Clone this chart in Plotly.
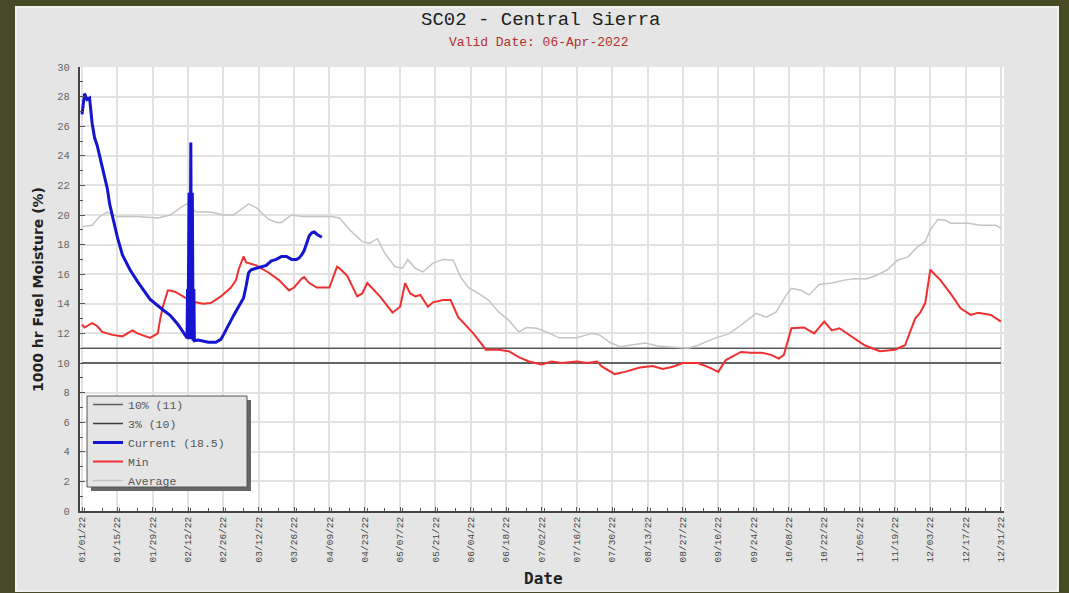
import pandas as pd
import plotly.graph_objects as go

START = pd.Timestamp("2022-01-01")

# day offsets from Jan 1 2022 and values
current_days = [0, 1, 2, 3, 4, 5, 6, 8, 10, 11, 14, 16, 19, 22, 27, 32, 35, 38, 41,
                41.6, 41.8, 42.0, 42.4, 42.7, 43.1, 43.4, 43.7, 44.0, 44.3, 44.5,
                46, 48, 50, 53, 55, 56, 58, 60, 62, 64, 65, 66, 67, 69, 71, 73, 75,
                77, 79, 81, 83, 85, 86, 87, 88, 89, 90, 91, 92, 93, 95]
current_vals = [26.8, 28.2, 27.8, 27.9, 26.2, 25.2, 24.7, 23.2, 21.8, 20.7, 18.5, 17.3,
                16.3, 15.5, 14.3, 13.6, 13.2, 12.6, 11.8,
                11.7, 15.0, 11.6, 21.5, 11.6, 24.9, 11.6, 21.5, 11.5, 15.0, 11.5,
                11.55, 11.5, 11.4, 11.4, 11.6, 11.9, 12.6, 13.2, 13.8, 14.4, 15.2, 16.1,
                16.3, 16.4, 16.5, 16.6, 16.9, 17.0, 17.2, 17.2, 17.0, 17.0, 17.1, 17.3,
                17.6, 18.1, 18.6, 18.8, 18.85, 18.7, 18.5]

min_days = [0, 1, 2, 4, 6, 8, 12, 16, 18, 20, 22, 24, 27, 29, 30, 31, 32, 34, 35, 37,
            41, 45, 48, 51, 55, 59, 61, 62, 64, 65, 69, 74, 78, 82, 84, 87, 88, 90, 93,
            98, 101, 102, 105, 109, 111, 113, 118, 123, 126, 128, 130, 132, 134, 137,
            139, 143, 146, 149, 155, 160, 165, 169, 173, 177, 182, 186, 190, 196, 200,
            204, 206, 211, 215, 221, 226, 230, 234, 238, 244, 249, 252, 255, 257, 261,
            265, 269, 273, 276, 278, 281, 286, 290, 294, 297, 300, 305, 310, 316, 322,
            326, 330, 332, 334, 336, 340, 344, 348, 352, 355, 360, 364]
min_vals = [12.6, 12.4, 12.5, 12.7, 12.5, 12.1, 11.9, 11.8, 12.0, 12.2, 12.0, 11.9, 11.7,
            11.9, 12.0, 13.0, 13.8, 14.9, 14.9, 14.8, 14.4, 14.1, 14.0, 14.05, 14.5, 15.1,
            15.6, 16.3, 17.2, 16.8, 16.6, 16.1, 15.6, 14.9, 15.1, 15.7, 15.8, 15.4, 15.1,
            15.1, 16.5, 16.4, 15.9, 14.5, 14.7, 15.4, 14.5, 13.4, 13.8, 15.4, 14.7, 14.5,
            14.6, 13.8, 14.1, 14.25, 14.25, 13.1, 12.0, 10.9, 10.9, 10.8, 10.4, 10.1, 9.9,
            10.1, 10.0, 10.1, 10.0, 10.1, 9.75, 9.25, 9.4, 9.7, 9.8, 9.6, 9.75, 10.0, 10.0,
            9.65, 9.4, 10.2, 10.4, 10.75, 10.7, 10.7, 10.55, 10.3, 10.55, 12.35, 12.4, 12.0,
            12.8, 12.2, 12.35, 11.75, 11.2, 10.8, 10.9, 11.2, 13.0, 13.4, 14.05, 16.3, 15.6,
            14.7, 13.7, 13.25, 13.4, 13.25, 12.8]

avg_days = [0, 4, 7, 10, 14, 22, 30, 35, 39, 42, 45, 51, 56, 60, 66, 69, 74, 77, 79, 83,
            87, 95, 99, 102, 106, 111, 114, 117, 120, 124, 127, 129, 132, 135, 139, 143,
            147, 150, 153, 157, 161, 165, 169, 173, 176, 180, 184, 189, 196, 202, 205,
            209, 213, 217, 223, 228, 234, 240, 244, 251, 256, 261, 267, 271, 275, 279,
            281, 285, 288, 292, 297, 302, 306, 311, 315, 319, 323, 327, 331, 334, 336,
            339, 342, 344, 351, 356, 362, 364]
avg_vals = [19.2, 19.3, 19.9, 20.2, 19.9, 19.9, 19.8, 20.0, 20.5, 20.8, 20.2, 20.2, 20.0,
            20.0, 20.75, 20.5, 19.7, 19.5, 19.5, 20.0, 19.9, 19.9, 19.9, 19.8, 19.0, 18.2,
            18.1, 18.4, 17.4, 16.5, 16.4, 17.0, 16.4, 16.15, 16.75, 17.0, 16.95, 15.8,
            15.1, 14.7, 14.25, 13.45, 12.9, 12.1, 12.4, 12.35, 12.1, 11.7, 11.7, 12.0, 11.9,
            11.4, 11.1, 11.2, 11.35, 11.15, 11.05, 11.0, 11.2, 11.7, 11.95, 12.55, 13.35,
            13.1, 13.45, 14.6, 15.05, 14.9, 14.6, 15.3, 15.4, 15.6, 15.7, 15.7, 15.95, 16.3,
            16.95, 17.15, 17.85, 18.2, 19.0, 19.7, 19.65, 19.45, 19.45, 19.3, 19.3, 19.1]

pct10_value = 11
pct3_value = 10
year_span = [0, 364]
current_label = "Current (18.5)"


def to_dates(days):
    return START + pd.to_timedelta(days, unit="D")


OLIVE = "#464b26"
PANEL = "#e5e5e5"
MONO = "Liberation Mono, DejaVu Sans Mono, monospace"

fig = go.Figure()

fig.add_trace(go.Scatter(x=to_dates(year_span), y=[pct10_value] * 2, mode="lines",
                         name="10% (11)", line=dict(color="#5a5a5a", width=1.5),
                         legendrank=1))
fig.add_trace(go.Scatter(x=to_dates(year_span), y=[pct3_value] * 2, mode="lines",
                         name="3% (10)", line=dict(color="#3a3a3a", width=1.5),
                         legendrank=2))
fig.add_trace(go.Scatter(x=to_dates(avg_days), y=avg_vals, mode="lines",
                         name="Average", line=dict(color="#c4c4c4", width=1.5),
                         legendrank=5))
fig.add_trace(go.Scatter(x=to_dates(min_days), y=min_vals, mode="lines",
                         name="Min", line=dict(color="#f03030", width=2),
                         legendrank=4))
fig.add_trace(go.Scatter(x=to_dates(current_days), y=current_vals, mode="lines",
                         name=current_label, line=dict(color="#1515d0", width=3),
                         legendrank=3))


# plot area spans pixels 80..1004 (x) and 67..511 (y)
def px_x(p):
    return (p - 80) / 924


def px_y(p):
    return (511 - p) / 444


def label(text, x, y, size, color, family=MONO, angle=0, bold=False):
    return dict(text=text, xref="paper", yref="paper", x=px_x(x), y=px_y(y),
                xanchor="center", yanchor="middle", showarrow=False, textangle=angle,
                font=dict(family=family, size=size, color=color,
                          weight="bold" if bold else "normal"))


fig.update_layout(
    width=1069, height=593,
    margin=dict(l=80, r=65, t=67, b=82),
    paper_bgcolor=OLIVE,
    plot_bgcolor="white",
    showlegend=True,
    legend=dict(x=px_x(88), y=px_y(390), xanchor="left", yanchor="top",
                bgcolor="rgba(0,0,0,0)", borderwidth=0,
                font=dict(family=MONO, size=11.5, color="#555555"),
                itemwidth=30, traceorder="normal"),
    shapes=[
        # grey panel inside the olive frame
        dict(type="rect", xref="paper", yref="paper", layer="below",
             x0=px_x(16), x1=px_x(1058), y0=px_y(591), y1=px_y(7),
             fillcolor=PANEL, line=dict(color="#f2f2f2", width=2)),
        # white plotting area
        dict(type="rect", xref="paper", yref="paper", layer="below",
             x0=0, x1=1, y0=0, y1=1, fillcolor="white", line=dict(width=0)),
        # legend shadow and box
        dict(type="rect", xref="paper", yref="paper", layer="above",
             x0=px_x(91), x1=px_x(251), y0=px_y(491), y1=px_y(400),
             fillcolor="#666666", line=dict(width=0)),
        dict(type="rect", xref="paper", yref="paper", layer="above",
             x0=px_x(87), x1=px_x(247), y0=px_y(487), y1=px_y(396),
             fillcolor=PANEL, line=dict(color="#555555", width=1)),
    ],
    annotations=[
        label("SC02 - Central Sierra", 540, 20, 19, "#222222"),
        label("Valid Date: 06-Apr-2022", 538, 42, 13, "#b03030"),
        label("1000 hr Fuel Moisture (%)", 38, 290, 14, "#222222",
              family="DejaVu Sans", angle=-90, bold=True),
        label("Date", 543, 578, 16, "#222222", family="DejaVu Sans Mono", bold=True),
    ],
)

fig.update_xaxes(
    range=[to_dates([-0.8])[0], to_dates([365.2])[0]],
    tick0="2022-01-01", dtick=14 * 86400000, tickformat="%m/%d/%y",
    tickangle=-90, ticks="inside", ticklen=4, tickcolor="#555555",
    tickfont=dict(family=MONO, size=9.5, color="#444444"),
    showgrid=True, gridcolor="#e2e2e2", gridwidth=2,
    showline=True, linecolor="#444444", linewidth=2,
    minor=dict(dtick=7 * 86400000, ticks="inside", ticklen=3, tickcolor="#555555",
               showgrid=False),
    zeroline=False,
)
fig.update_yaxes(
    range=[0, 30], dtick=2, ticks="inside", ticklen=5, tickcolor="#555555",
    tickfont=dict(family=MONO, size=10.5, color="#666666"),
    ticklabelstandoff=6,
    showgrid=True, gridcolor="#e2e2e2", gridwidth=2,
    showline=True, linecolor="#444444", linewidth=2,
    minor=dict(dtick=1, ticks="inside", ticklen=3, tickcolor="#555555", showgrid=False),
    zeroline=False,
)

fig.write_html("out.html", config={"displayModeBar": False},
               post_script="document.body.style.margin='0';"
                           "document.body.style.overflow='hidden';")
